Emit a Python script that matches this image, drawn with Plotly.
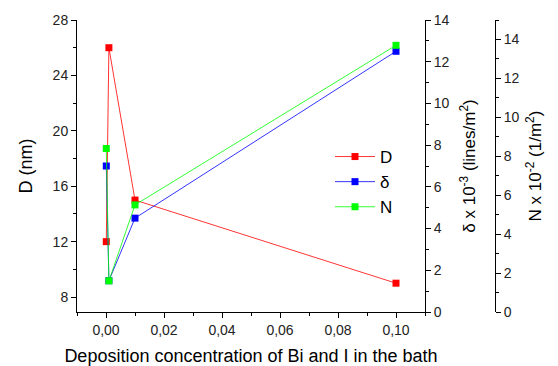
import plotly.graph_objects as go

# Data
conc = [0.0001, 0.001, 0.01, 0.1]
D_nm = [12.0, 26.0, 15.0, 9.0]
delta = [7.0, 1.5, 4.5, 12.5]
N_vals = [8.4, 1.6, 5.5, 13.7]

x_ticks = [0.0, 0.02, 0.04, 0.06, 0.08, 0.10]

L, R, T, B = 77, 20, 20, 54
W, H = 558, 366
pw = W - L - R
dom_end = (425 - L) / pw
pos3 = (495 - L) / pw

fig = go.Figure()
fig.add_trace(go.Scatter(x=conc, y=D_nm, name="D", mode="lines+markers",
                         line=dict(color="#ff0000", width=0.8),
                         marker=dict(symbol="square", size=7, color="#ff0000"),
                         yaxis="y"))
fig.add_trace(go.Scatter(x=conc, y=delta, name="δ", mode="lines+markers",
                         line=dict(color="#0000ff", width=0.8),
                         marker=dict(symbol="square", size=7, color="#0000ff"),
                         yaxis="y2"))
fig.add_trace(go.Scatter(x=conc, y=N_vals, name="N", mode="lines+markers",
                         line=dict(color="#00ff00", width=0.8),
                         marker=dict(symbol="square", size=7, color="#00ff00"),
                         yaxis="y3"))

axis_common = dict(showline=True, linecolor="black", linewidth=1, ticks="outside",
                   ticklen=5, tickcolor="black", showgrid=False, zeroline=False,
                   automargin=False,
                   tickfont=dict(family="Liberation Sans, Arial", size=14, color="#222"))

fig.update_layout(
    width=W, height=H,
    margin=dict(l=L, r=R, t=T, b=B),
    plot_bgcolor="white", paper_bgcolor="white",
    separators=", ",
    font=dict(family="Liberation Sans, Arial", color="black"),
    showlegend=True,
    legend=dict(x=(330 - L) / pw, y=1 - (139 - T) / (H - T - B), xanchor="left", yanchor="top",
                bgcolor="rgba(0,0,0,0)", font=dict(size=17), tracegroupgap=0,
                itemwidth=40),
    xaxis=dict(domain=[0, dom_end], range=[-0.01, 0.11], tickvals=x_ticks,
               tickformat=".2f",
               minor=dict(dtick=0.01, tick0=0, ticks="outside", ticklen=3, tickcolor="black"),
               title=dict(text="Deposition concentration of Bi and I in the bath",
                          font=dict(size=18), standoff=12),
               **axis_common),
    yaxis=dict(range=[6.92, 28], tick0=0, dtick=4,
               minor=dict(dtick=2, tick0=0, ticks="outside", ticklen=3, tickcolor="black"),
               title=dict(text="D (nm)", font=dict(size=18), standoff=15),
               **axis_common),
    yaxis2=dict(range=[0, 14], dtick=2, tick0=0, overlaying="y", side="right", anchor="x",
                minor=dict(dtick=1, tick0=0, ticks="outside", ticklen=3, tickcolor="black"),
                title=dict(text="δ x 10<sup>-3</sup> (lines/m<sup>2</sup>)", font=dict(size=17), standoff=14),
                **axis_common),
    yaxis3=dict(range=[0, 15], dtick=2, tick0=0, overlaying="y", side="right", anchor="free",
                position=pos3,
                minor=dict(dtick=1, tick0=0, ticks="outside", ticklen=3, tickcolor="black"),
                title=dict(text="N x 10<sup>-2</sup> (1/m<sup>2</sup>)", font=dict(size=17), standoff=10),
                **axis_common),
)

fig.write_html("out.html")
